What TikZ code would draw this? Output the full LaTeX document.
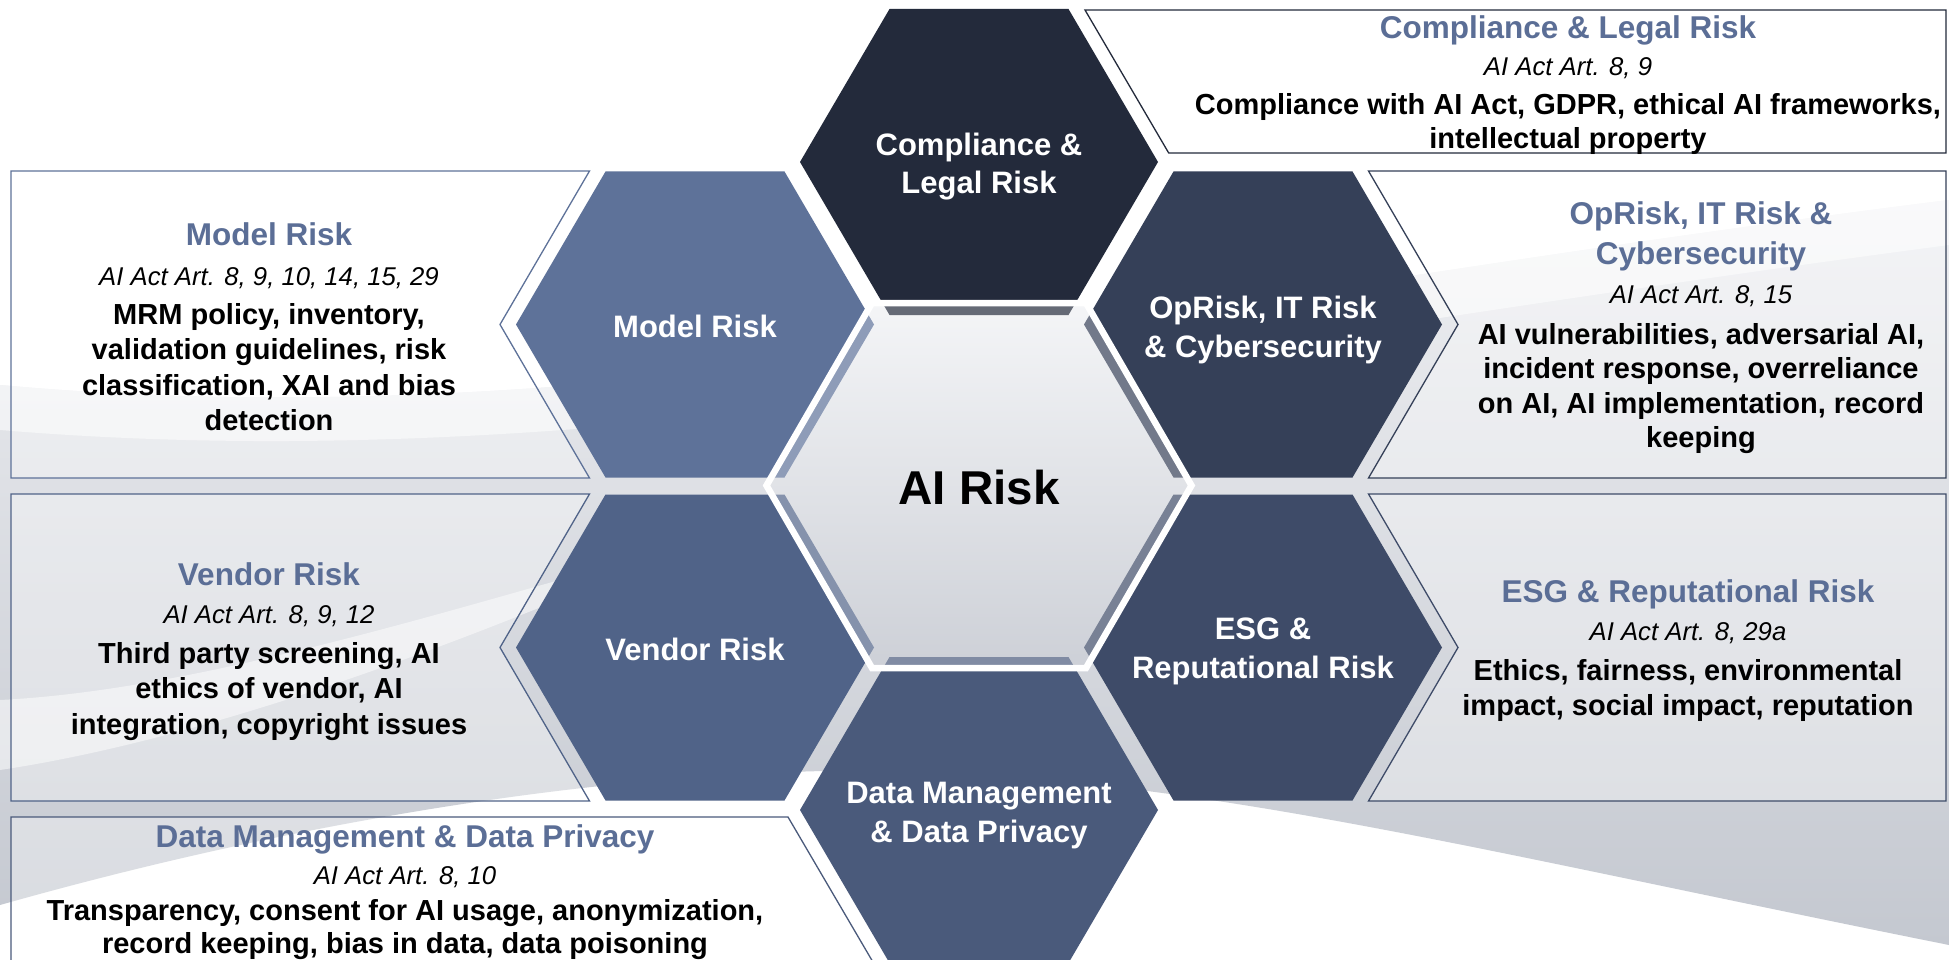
\documentclass[tikz,border=0pt]{standalone}
\usepackage{fontspec}
\setmainfont{Liberation Sans}
\definecolor{cComp}{RGB}{35,42,59}
\definecolor{cModel}{RGB}{94,114,153}
\definecolor{cOp}{RGB}{53,64,88}
\definecolor{cVend}{RGB}{80,99,136}
\definecolor{cEsg}{RGB}{62,75,104}
\definecolor{cData}{RGB}{74,90,123}
\definecolor{cHead}{RGB}{91,110,150}
\definecolor{bgTop}{RGB}{238,239,242}
\definecolor{bgBot}{RGB}{196,200,208}
\definecolor{ctrTop}{RGB}{244,245,247}
\definecolor{ctrBot}{RGB}{205,208,215}
\newcommand\hexfill[3]{\fill[#1] ({#2-179},{#3}) -- ({#2-89.5},{#3-153}) -- ({#2+89.5},{#3-153}) -- ({#2+179},{#3}) -- ({#2+89.5},{#3+153}) -- ({#2-89.5},{#3+153}) -- cycle;}
\tikzset{
 boxhead/.style={font=\fontsize{31.5}{36}\selectfont\bfseries, text=cHead, anchor=base, inner sep=0pt},
 boxart/.style={font=\fontsize{25.7}{30}\selectfont\itshape, text=black, anchor=base, inner sep=0pt},
 boxbody/.style={font=\fontsize{29}{35}\selectfont\bfseries, text=black, anchor=base, inner sep=0pt},
 hexlabel/.style={font=\fontsize{31}{38}\selectfont\bfseries, text=white, anchor=base, inner sep=0pt},
 panelbox/.style={fill=white, fill opacity=0.35, draw=#1, line width=1.3pt},
}
\begin{document}
\begin{tikzpicture}[x=1pt,y=-1pt]
\useasboundingbox (0,0) rectangle (1949,960);
\clip (0,0) rectangle (1949,960);
\fill[white] (0,0) rectangle (1949,960);
% background swoosh
\shade[top color=bgTop, bottom color=bgBot] (0,385) .. controls (600,440) and (1150,300) .. (1949,200) -- (1949,945) .. controls (1500,855) and (1250,790) .. (950,772) .. controls (650,760) and (300,820) .. (0,905) -- cycle;
\fill[white, opacity=0.55] (0,385) .. controls (600,440) and (1150,300) .. (1949,200) -- (1949,245) .. controls (1150,350) and (600,480) .. (0,430) -- cycle;
\fill[white, opacity=0.5] (0,700) .. controls (200,690) and (450,610) .. (700,540) .. controls (450,650) and (200,740) .. (0,770) -- cycle;
% text panels
\draw[panelbox=cComp] (1085,10) -- (1946,10) -- (1946,153) -- (1168.7,153) -- cycle;
\draw[panelbox=cModel] (11,171) -- (589.5,171) -- (500,324.5) -- (589.5,478) -- (11,478) -- cycle;
\draw[panelbox=cVend] (11,494) -- (589.5,494) -- (500,647.5) -- (589.5,801) -- (11,801) -- cycle;
\draw[panelbox=cOp] (1368.5,171) -- (1946,171) -- (1946,478) -- (1368.5,478) -- (1458,324.5) -- cycle;
\draw[panelbox=cEsg] (1368.5,494) -- (1946,494) -- (1946,801) -- (1368.5,801) -- (1458,647.5) -- cycle;
\draw[panelbox=cData] (11,817) -- (788,817) -- (877.6,970) -- (11,970) -- cycle;
% surrounding hexagons
\hexfill{cComp}{979}{162}
\hexfill{cModel}{695}{324.5}
\hexfill{cOp}{1263}{324.5}
\hexfill{cVend}{695}{647.5}
\hexfill{cEsg}{1263}{647.5}
\hexfill{cData}{979}{810}
% centre hexagon
\shade[top color=ctrTop, bottom color=ctrBot] (766.5,485.5) -- (872,303) -- (1086,303) -- (1191.5,485.5) -- (1086,668) -- (872,668) -- cycle;
\begin{scope}
\clip (766.5,485.5) -- (872,303) -- (1086,303) -- (1191.5,485.5) -- (1086,668) -- (872,668) -- cycle;
\hexfill{cComp!70!white}{979}{162}
\hexfill{cModel!70!white}{695}{324.5}
\hexfill{cOp!70!white}{1263}{324.5}
\hexfill{cVend!70!white}{695}{647.5}
\hexfill{cEsg!70!white}{1263}{647.5}
\hexfill{cData!70!white}{979}{810}
\end{scope}
\draw[white, line width=6.5pt, line join=miter] (766.5,485.5) -- (872,303) -- (1086,303) -- (1191.5,485.5) -- (1086,668) -- (872,668) -- cycle;
% hexagon labels
\node[hexlabel] (lcomp1) at (979,156) {Compliance \&};
\node[hexlabel] (lcomp2) at (979,194) {Legal Risk};
\node[hexlabel] (lmodel) at (695,337) {Model Risk};
\node[hexlabel] (lop1) at (1263,318) {OpRisk, IT Risk};
\node[hexlabel] (lop2) at (1263,357) {\& Cybersecurity};
\node[hexlabel] (lvend) at (695,660) {Vendor Risk};
\node[hexlabel] (lesg1) at (1263,639) {ESG \&};
\node[hexlabel] (lesg2) at (1263,678) {Reputational Risk};
\node[hexlabel] (ldata1) at (979,803) {Data Management};
\node[hexlabel] (ldata2) at (979,842) {\& Data Privacy};
\node[font=\fontsize{47.5}{50}\selectfont\bfseries, anchor=base, inner sep=0pt] (ai) at (979,504) {AI Risk};
% compliance panel
\node[boxhead] (ch) at (1568,39) {Compliance \& Legal Risk};
\node[boxart] (ca) at (1568,76) {AI Act Art. 8, 9};
\node[boxbody] (cb1) at (1568,115) {Compliance with AI Act, GDPR, ethical AI frameworks,};
\node[boxbody] (cb2) at (1568,149) {intellectual property};
% model panel
\node[boxhead] (mh) at (269,246) {Model Risk};
\node[boxart] (ma) at (269,285) {AI Act Art. 8, 9, 10, 14, 15, 29};
\node[boxbody] (mb1) at (269,324) {MRM policy, inventory,};
\node[boxbody] (mb2) at (269,359.5) {validation guidelines, risk};
\node[boxbody] (mb3) at (269,395) {classification, XAI and bias};
\node[boxbody] (mb4) at (269,430) {detection};
% oprisk panel
\node[boxhead] (oh1) at (1701,225) {OpRisk, IT Risk \&};
\node[boxhead] (oh2) at (1701,264) {Cybersecurity};
\node[boxart] (oa) at (1701,303) {AI Act Art. 8, 15};
\node[boxbody] (ob1) at (1701,344) {AI vulnerabilities, adversarial AI,};
\node[boxbody] (ob2) at (1701,378.5) {incident response, overreliance};
\node[boxbody] (ob3) at (1701,413) {on AI, AI implementation, record};
\node[boxbody] (ob4) at (1701,447.5) {keeping};
% vendor panel
\node[boxhead] (vh) at (269,585) {Vendor Risk};
\node[boxart] (va) at (269,623) {AI Act Art. 8, 9, 12};
\node[boxbody] (vb1) at (269,663) {Third party screening, AI};
\node[boxbody] (vb2) at (269,698.5) {ethics of vendor, AI};
\node[boxbody] (vb3) at (269,734) {integration, copyright issues};
% esg panel
\node[boxhead] (eh) at (1688,602) {ESG \& Reputational Risk};
\node[boxart] (ea) at (1688,640) {AI Act Art. 8, 29a};
\node[boxbody] (eb1) at (1688,680) {Ethics, fairness, environmental};
\node[boxbody] (eb2) at (1688,715) {impact, social impact, reputation};
% data panel
\node[boxhead] (dh) at (405,847) {Data Management \& Data Privacy};
\node[boxart] (da) at (405,884) {AI Act Art. 8, 10};
\node[boxbody] (db1) at (405,920) {Transparency, consent for AI usage, anonymization,};
\node[boxbody] (db2) at (405,953) {record keeping, bias in data, data poisoning};
\end{tikzpicture}
\end{document}
